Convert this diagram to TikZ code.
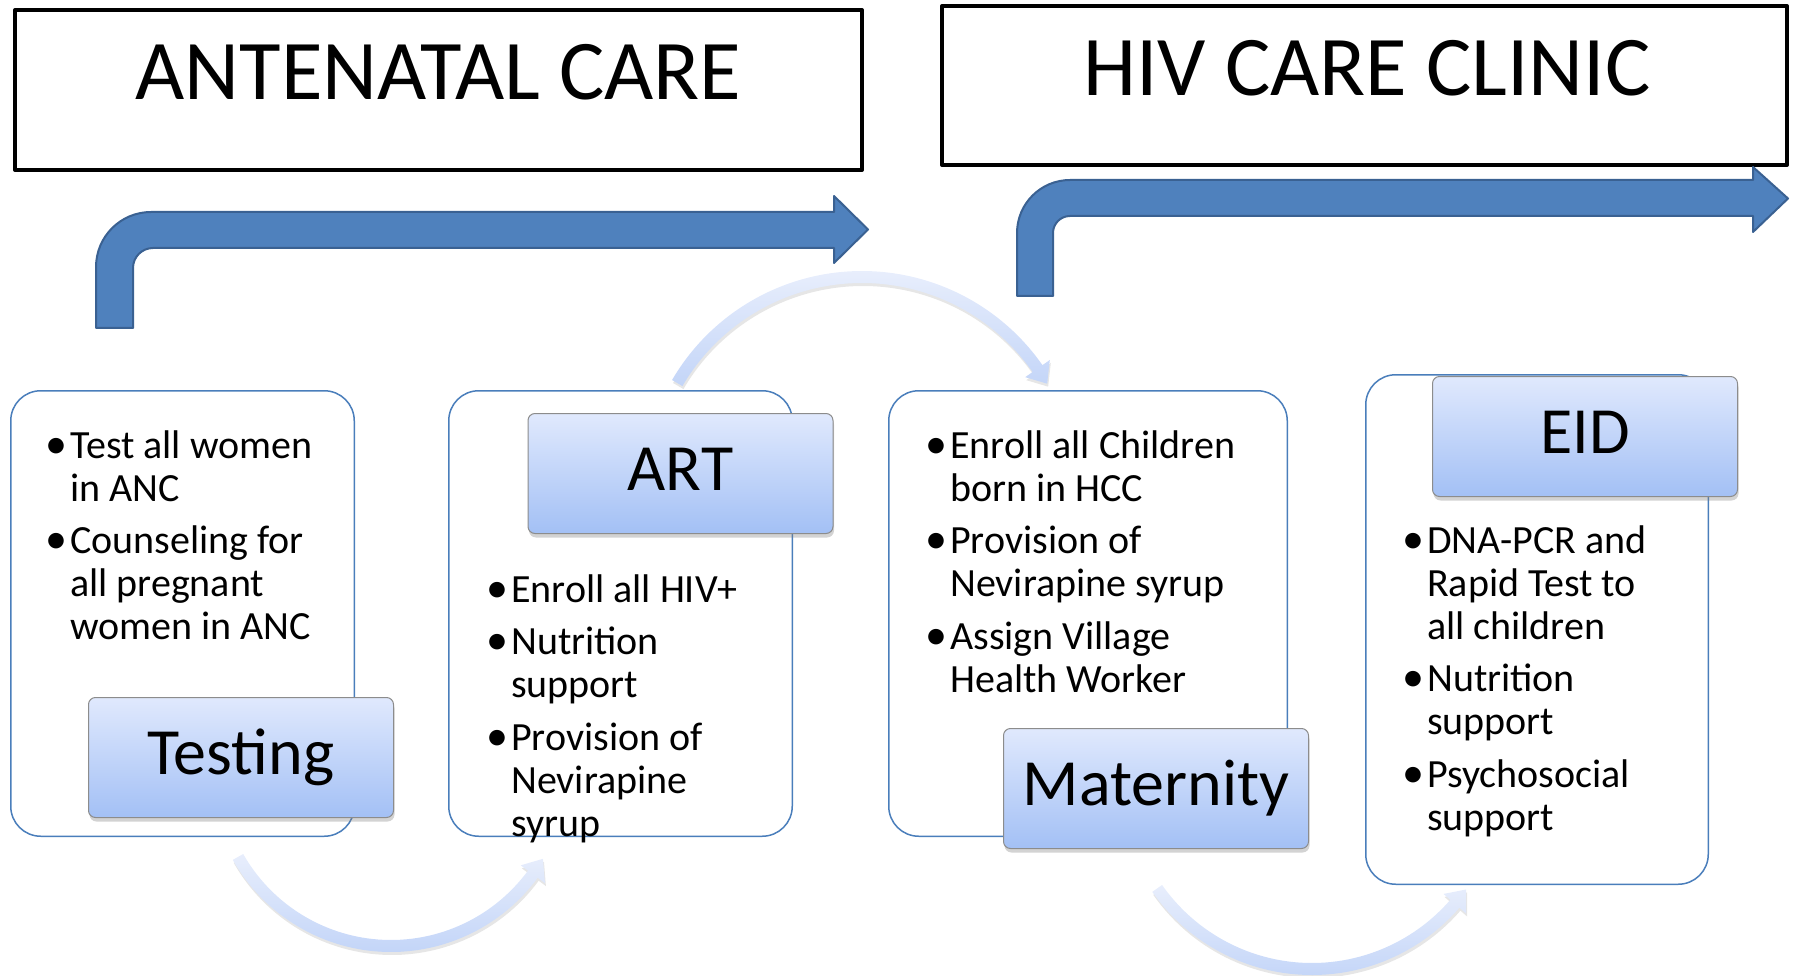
\documentclass[tikz,border=0pt]{standalone}
\usepackage{fontspec}
\setmainfont{Carlito}
\usetikzlibrary{shadows}

\definecolor{boxblue}{HTML}{4A7EBB}
\definecolor{arrowblue}{HTML}{4F81BD}
\definecolor{arrowedge}{HTML}{3A6192}
\definecolor{labeltop}{HTML}{E0E9FD}
\definecolor{labelbottom}{HTML}{A3C0F5}
\definecolor{arctop}{HTML}{E8EEFC}
\definecolor{arcbottom}{HTML}{C3D5F8}

\newcommand\listfont{\fontsize{40}{43}\selectfont\parskip=9.5pt}
\newcommand\bitem{\par\hangindent=21pt\hangafter=1\noindent
  \makebox[21pt][l]{\hspace{-4pt}{\fontsize{44}{43}\selectfont\textbullet}}}
% curved arrow: centre, radius, tail angle, shaft end angle, tip angle
\newcommand\arcarrow[5]{%
  \pgfmathsetmacro\arcro{#2+6}\pgfmathsetmacro\arcri{#2-6}%
  \pgfmathsetmacro\archo{#2+15}\pgfmathsetmacro\archi{#2-15}%
  \shade[arcband] ([shift={(#3:\arcro)}]#1) arc[start angle=#3, end angle=#4, radius=\arcro]
    -- ([shift={(#4:\archo)}]#1) -- ([shift={(#5:#2)}]#1)
    -- ([shift={(#4:\archi)}]#1) -- ([shift={(#4:\arcri)}]#1)
    arc[start angle=#4, end angle=#3, radius=\arcri] -- cycle;}

\begin{document}
\begin{tikzpicture}[x=1pt, y=-1pt, line join=round,
  titlebox/.style={draw, line width=4pt, fill=white, minimum width=847pt, minimum height=160pt},
  titletext/.style={anchor=base, font=\fontsize{85}{90}\selectfont},
  listbox/.style={draw=boxblue, line width=1.5pt, fill=white, rounded corners=30pt},
  stagebox/.style={draw=black!45, line width=1pt, rounded corners=7pt,
    top color=labeltop, bottom color=labelbottom,
    minimum width=305pt, minimum height=120pt, text height=34pt, text depth=0pt,
    inner sep=0pt, font=\fontsize{66}{70}\selectfont,
    drop shadow={shadow xshift=1pt, shadow yshift=-4pt, opacity=0.35}},
  bentarrow/.style={fill=arrowblue, draw=arrowedge, line width=2pt},
  arcband/.style={top color=arctop, bottom color=arcbottom,
    drop shadow={shadow xshift=1pt, shadow yshift=-3pt, opacity=0.2}},
  bullets/.style={anchor=base west, inner sep=0pt}]
  \useasboundingbox (0,0) rectangle (1794,976);

  % headers
  \node[titlebox] (ancbox) at (438.5,90) {};
  \node[titletext] (anctitle) at (438.5,100) {ANTENATAL CARE};
  \node[titlebox, minimum width=845pt, minimum height=159pt] (hccbox) at (1364.5,85.5) {};
  \node[titletext] (hcctitle) at (1367,96) {HIV CARE CLINIC};

  % bent arrows
  \draw[bentarrow] (96,328) -- (96,267) arc[start angle=180, end angle=270, radius=55]
    -- (834,212) -- (834,196) -- (868,229.5) -- (834,263) -- (834,248) -- (153,248)
    arc[start angle=270, end angle=180, radius=20] -- (133,328) -- cycle;
  \draw[bentarrow] (1017,296) -- (1017,233) arc[start angle=180, end angle=270, radius=53]
    -- (1753,180) -- (1753,167) -- (1788,198.5) -- (1753,232) -- (1753,216) -- (1070,216)
    arc[start angle=270, end angle=180, radius=17] -- (1053,296) -- cycle;

  % boxes
  \node[listbox, minimum width=343.5pt, minimum height=445.5pt] (testbox) at (182.5,613.5) {};
  \node[listbox, minimum width=343.5pt, minimum height=445.5pt] (artbox) at (620.5,613.5) {};
  \node[listbox, minimum width=398.5pt, minimum height=445.5pt] (matbox) at (1088,613.5) {};
  \node[listbox, minimum width=342.5pt, minimum height=509.5pt] (eidbox) at (1537,629.5) {};

  % curved arrows
  \coordinate (c1) at (391,770);
  \coordinate (c2) at (862,491);
  \coordinate (c3) at (1312,780);
  \arcarrow{c1}{176}{150.4}{36.3}{30.3}
  \arcarrow{c2}{214}{210.3}{325.1}{329.9}
  \arcarrow{c3}{189}{145}{40.9}{35.4}

  % stages
  \node[stagebox] (testing) at (241,757.5) {Testing};
  \node[stagebox] (art) at (680.5,473.5) {ART};
  \node[stagebox] (maternity) at (1156,788.5) {Maternity};
  \node[stagebox] (eid) at (1585,436.5) {EID};

  % lists
  \node[bullets] (testlist) at (49,458) {\parbox[t]{400pt}{\listfont
    \bitem Test all women\\in ANC
    \bitem Counseling for\\all pregnant\\women in ANC}};
  \node[bullets] (artlist) at (490,602) {\parbox[t]{400pt}{\listfont
    \bitem Enroll all HIV+
    \bitem Nutrition\\support
    \bitem Provision of\\Nevirapine\\syrup}};
  \node[bullets] (matlist) at (929,458) {\parbox[t]{400pt}{\listfont
    \bitem Enroll all Children\\born in HCC
    \bitem Provision of\\Nevirapine syrup
    \bitem Assign Village\\Health Worker}};
  \node[bullets] (eidlist) at (1406,553) {\parbox[t]{400pt}{\listfont
    \bitem DNA-PCR and\\Rapid Test to\\all children
    \bitem Nutrition\\support
    \bitem Psychosocial\\support}};
\end{tikzpicture}
\end{document}
